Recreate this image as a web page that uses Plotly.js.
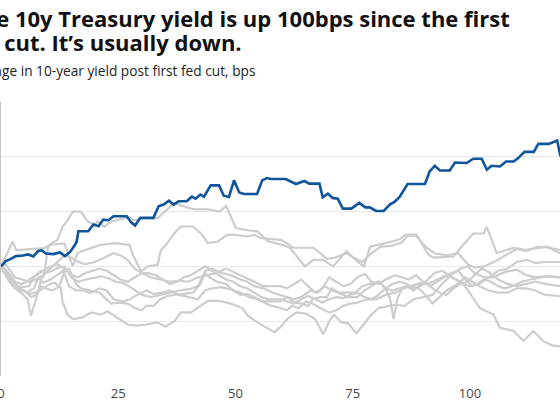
<!DOCTYPE html>
<html>
<head>
<meta charset="utf-8">
<script src="https://cdn.plot.ly/plotly-3.0.1.min.js"></script>
<style>
html,body{margin:0;padding:0;background:#fff;overflow:hidden;}
#chart{width:560px;height:402px;}
</style>
</head>
<body>
<div id="chart"></div>
<script>
// Titles
const titleLine1 = "The 10y Treasury yield is up 100bps since the first";
const titleLine2 = "fed cut. It\u2019s usually down.";
const subtitle = "Change in 10-year yield post first fed cut, bps";

// X tick labels (trading days after first cut)
const xTicks = [0, 25, 50, 75, 100];

// Current cycle (blue): days after cut, change in bps
const currentDays = [0,1,1.9,3.2,4.7,5.8,6.9,7.9,8.6,9.6,11.1,12.6,13.6,14.7,15.6,16.1,16.5,18.6,19.7,20.8,21.8,22.9,24,26.8,27.8,28.6,29.7,32.5,33.6,34.7,35.8,36.8,37.9,39.6,40.7,41.5,42.5,43.3,44.7,46.5,47.5,48.6,49.7,50.8,51.8,54.6,55.7,56.7,57.5,60.7,62.9,64.7,65.7,67.9,68.6,69.7,70.7,71.8,72.9,74.7,76.4,77.7,78.6,80,81.6,82.9,83.9,85,86.7,90.4,91.4,92.5,93.6,95.7,96.8,99.3,100.7,102.5,103.6,104.6,106.4,107.7,109.3,110.3,111.6,113.6,114.6,116.8,118.6,119.3];
const currentBps = [0,4.8,6.4,9.4,10,10.9,9.1,13.9,14.8,11.8,11.2,12.7,9.4,13,18.5,22,32.1,32.1,38.2,36.6,42.7,42.1,45.7,45.7,40,37.3,44.3,44.3,54.8,56.4,60,56.4,59.4,59.4,63.6,61.8,65.5,63.6,73.9,73.9,64.5,63.4,78.5,67.5,66.1,66.1,78.5,80.6,79.7,79.7,75.2,77.9,75.5,75.5,63,66.4,62.5,61.8,52.7,52.7,57.9,53.9,53.9,50.6,50.6,56.4,58.8,63.4,75.2,75.2,86.6,91.8,87.5,87.5,94.8,94.3,98.2,98.2,88.2,91.8,91.2,95.7,95.7,98.8,104.5,104.5,111.8,111.8,114.8,100.3];

// Past cycles (grey): [day, bps]
const pastCycle1 = [[0,0],[1.5,-12],[3,-20],[4.5,-25],[5.7,-30],[6.4,-45],[7.1,-35],[8,-22],[8.5,-12],[9.2,-8],[10,17],[10.7,21],[12,24],[13.1,36],[14.2,42],[15.3,50],[17,50],[18.5,41],[19.9,38],[20.6,41],[22,36],[23.5,41],[24.5,42],[27.4,45],[28.4,42],[30.6,44],[33.4,44],[35.5,52],[37,58],[38.7,55],[41.2,52],[44.1,52],[46.6,50],[48,55],[50.1,35],[52.6,33],[54.7,32],[56.9,23],[59.7,20],[61.6,17],[63,10],[64.8,0],[66.6,6],[68.7,6],[70.8,0],[73.7,14],[75.8,5],[77.4,0],[78.7,18],[80.8,20],[83.7,23],[85.2,25],[86.2,29],[88.6,29],[91.1,11],[92.2,8],[96.5,9],[98.2,18],[100.7,30],[102.9,30],[103.6,36],[105.7,12],[109.3,17],[112,15],[116.4,18],[119.2,12]];
const pastCycle2 = [[0,0],[2.5,22.7],[3.2,15],[4.3,15],[9.2,16.7],[10.3,19.7],[13.5,21],[14.6,9],[15.3,0],[16.3,12],[17.1,13.6],[19.2,16.7],[21.3,19.7],[24.2,21.2],[27.4,19.7],[28.1,10.6],[29.9,-4.5],[31.3,0],[33.4,1.5],[34.1,15],[35.2,19.7],[36.2,25.8],[37.3,31.8],[38.4,36.4],[40.9,36.4],[42.6,30.3],[44.1,21.2],[46.2,22.7],[48.3,28.8],[49.8,28.8],[52.6,27.3],[54,28.8],[55.4,25.8],[59.7,24.2],[61,21],[62.3,17],[66.6,17],[68.4,11],[69.5,7],[71.2,8],[73.7,12],[75.2,8],[77,4],[79,12],[81,18],[83.5,19],[85.5,22],[86.7,28],[88.5,28],[90.5,18],[92.5,12],[95,10],[97.5,12],[99.5,2],[101,-1],[103,0],[105.5,5],[107.5,10],[110,16],[112,14],[114.5,18],[117,17],[119.2,15]];
const pastCycle3 = [[0,0],[1,-8],[2,-15],[3,-20],[4.5,-22],[6,-25],[7.5,-24],[9,-20],[10.5,-16],[11.5,-15],[12.8,-20],[13.1,-32],[14.2,-44],[15.3,-48],[17.1,-47],[19.2,-42],[21.3,-44],[22.7,-41],[24.9,-47],[27,-53],[29,-54],[31,-53],[33.4,-51],[35,-55],[37,-50],[38.4,-42],[40.5,-42],[42.6,-36],[44.1,-31.5],[46.5,-31.5],[49,-34],[51.5,-38],[52.6,-45],[55,-52],[56.9,-57],[58.3,-60],[59.7,-55],[61,-48],[63,-42],[65,-43],[67,-48],[68.7,-62],[70,-50],[71,-44],[72.5,-51],[74,-52],[75.8,-61],[77.5,-52],[79,-44],[80.5,-38],[82,-37],[84,-35],[86,-36],[88,-30],[90,-28],[92,-26],[94,-16],[96,-8],[98,-2],[99.5,0],[101,-6],[103,-10],[105,-10],[107.5,-5],[110,-3],[112,-8],[114,-10],[116,-9],[119.2,-10]];
const pastCycle4 = [[0,0],[1,-4],[2,-10],[3.5,-18],[5,-22],[6.5,-28],[7.5,-26],[8.5,-18],[9.5,-20],[11,-22],[12.5,-18],[13.5,-5],[14.5,-2],[16,-16],[17,-20],[19,-22],[21,-24],[22,-28],[23.5,-34],[25,-33],[27,-34],[28.5,-38],[30,-40],[31,-36],[32.5,-36],[34,-30],[35.5,-27],[37,-26],[39,-25],[41,-24],[42.5,-16],[43.5,-6],[44.5,-10],[46,-14],[48,-16],[49.5,-22],[51,-26],[52.5,-25],[54,-28],[55.5,-32],[57,-32],[59.5,-32],[61,-28],[62.5,-33],[64,-34],[65.5,-36],[66.5,-30],[68,-28],[69.5,-28],[70.5,-20],[72,-24],[74,-28],[76,-28],[77.5,-22],[79,-18],[80.5,-14],[82,-20],[83.5,-22],[85,-20],[86.5,-18],[88,-22],[89.5,-16],[91,-16],[93,-12],[95,-8],[96.5,-11],[98,-14],[99.3,-20],[100.5,-28],[102.1,-38],[105,-44],[106.4,-56],[109.3,-59],[111.4,-68],[113.5,-59],[115.6,-68],[117.5,-72],[119.2,-73]];
const pastCycle5 = [[0,0],[1.2,-10],[2.5,-18],[4,-20],[5.5,-24],[7,-20],[8,-10],[9,-15],[10.5,-12],[12,-8],[13.3,-4],[14.5,-18],[16,-22],[17.5,-22],[19,-24],[21,-20],[22.5,-22],[24,-30],[26,-32],[27.5,-30],[29,-26],[31,-22],[32.5,-25],[34.5,-24],[36,-22],[38,-26],[40,-28],[42,-30],[43.5,-22],[45,-20],[47,-19],[49,-21],[51,-24],[53,-28],[55,-30],[57,-35],[59.5,-38],[61,-40],[62,-36],[63.5,-38],[65,-32],[66.5,-34],[68,-38],[70,-42],[71.5,-40],[73,-36],[74.5,-34],[76,-33],[78,-30],[80,-30],[82,-26],[84,-24],[86,-20],[87.5,-18],[89,-20],[90.5,-26],[92,-34],[93.5,-28],[95,-22],[97,-17],[99,-10],[100.5,-14],[102,-18],[104,-22],[106,-24],[108,-24],[110,-20],[112,-20],[114,-22],[116,-26],[119.2,-27]];
const pastCycle6 = [[0,0],[1,-6],[2,-12],[3,-17],[4.5,-19],[6,-18],[7,-10],[8.5,-4],[9.5,-6],[11,-4],[12.3,-1],[13.5,0],[15,-10],[16.5,-14],[18,-12],[20,-10],[21.5,-9],[23,-11],[24.5,-14],[26,-15],[28,-20],[30,-26],[32,-28],[34,-26],[36,-24],[38,-22],[40,-21],[42,-18],[43.5,-4],[45,-2],[47,-6],[49,-8],[51,-12],[52.5,-14],[54,-18],[56,-20],[58,-24],[59.5,-26],[61,-28],[62.5,-30],[64,-28],[66,-22],[67.5,-24],[69,-18],[70.5,-22],[72,-24],[73.5,-24],[75.5,-24],[77,-18],[78.5,-16],[80.5,-14],[82,-20],[83,-30],[83.7,-48],[84.5,-30],[85.5,-20],[87,-18],[89,-16],[90.5,-14],[92,-20],[93.5,-24],[95,-26],[96.5,-20],[98,-16],[99.5,-14],[101,-8],[102.5,-2],[104,-5],[106,-12],[108,-16],[110,-18],[112,-16],[114,-14],[116,-16],[119.2,-18]];
const pastCycle7 = [[0,0],[1,2],[2,-4],[3,-10],[4.5,-12],[6,-14],[7.5,-12],[9,-8],[10.5,-2],[12,4],[13.5,10],[15,8],[16.5,4],[18,2],[20,4],[22,8],[24,12],[25.5,10],[27,6],[28.5,-2],[30,-6],[32,-10],[34,-12],[36,-14],[38,-13],[40,-14],[42,-10],[44,-8],[46,-6],[48,-2],[50,-6],[52,-10],[54,-14],[56,-18],[58,-18],[59.5,-18],[61,-20],[62.5,-16],[64,-12],[65.5,-18],[67,-24],[68.5,-20],[70,-10],[71.5,-14],[73,-18],[74.5,-16],[76,-10],[77.6,-7],[79,-14],[80.5,-16],[82,-12],[84,-8],[85.5,-10],[87,-12],[88.5,-8],[90,-14],[91.5,-18],[93,-14],[94.5,-10],[96,-6],[97.5,-4],[99,-12],[100.5,-18],[102,-16],[104,-10],[106,-4],[108,-2],[110,4],[112,6],[114,3],[116,4],[119.2,4]];
const pastCycle8 = [[0,0],[1,-3],[2,-8],[3,-14],[4.5,-16],[6,-12],[7.5,-8],[9,-4],[10.5,0],[12,2],[13.5,-2],[15,-8],[16.5,-10],[18,-6],[19.5,-4],[21,-2],[22.5,-4],[24,-8],[25.5,-12],[27,-14],[28.5,-10],[30,-6],[31.5,-6],[33,-8],[34.5,-12],[36,-16],[37.5,-14],[39,-10],[40.5,-8],[42,-4],[43.5,0],[45,-4],[46.5,-8],[48,-12],[49.5,-14],[51,-18],[52.5,-20],[54,-24],[55.5,-28],[57,-30],[59.5,-30],[61,-32],[62.5,-34],[64,-30],[65.5,-27],[67,-30],[68.5,-33],[70,-30],[71.5,-28],[73,-29],[74.5,-26],[76,-24],[77.5,-28],[79,-30],[80.5,-26],[82,-20],[83.5,-16],[85,-14],[86.5,-16],[88,-20],[89.5,-18],[91,-12],[92.5,-6],[94,-4],[95.5,-8],[97,-12],[98.5,-16],[100,-18],[101.5,-16],[103,-12],[104.5,-14],[106,-18],[107.5,-20],[109,-18],[111,-14],[113,-12],[115,-10],[117,-9],[119.2,-10]];

const pastCycles = [pastCycle1, pastCycle2, pastCycle3, pastCycle4, pastCycle5, pastCycle6, pastCycle7, pastCycle8];

const traces = pastCycles.map(c => ({
  x: c.map(p => p[0]),
  y: c.map(p => p[1]),
  type: 'scatter', mode: 'lines',
  line: {color: '#cdcdcd', width: 2.2},
  hoverinfo: 'skip', showlegend: false
}));
traces.push({
  x: currentDays, y: currentBps,
  type: 'scatter', mode: 'lines',
  line: {color: '#0f559c', width: 2.6},
  hoverinfo: 'skip', showlegend: false
});

const W = 559, H = 274;       // plot area size (px)
const px2x = p => (p - 1) / W;
const py2y = p => (376 - p) / H;
const TFONT = 'Open Sans, sans-serif';

const layout = {
  width: 560, height: 402,
  margin: {l: 1, r: 0, t: 102, b: 26, pad: 0},
  paper_bgcolor: '#fff', plot_bgcolor: '#fff',
  showlegend: false,
  xaxis: {
    range: [0, 119.2], tickvals: xTicks, ticktext: xTicks.map(String),
    showgrid: false, zeroline: false, showline: false, ticks: '',
    ticklabeloverflow: 'allow', ticklabelstandoff: 8,
    tickfont: {family: TFONT, size: 13, color: '#444'},
    fixedrange: true
  },
  yaxis: {
    range: [-100, 150], dtick: 50, tick0: 0,
    showgrid: true, gridcolor: '#e9e9e9', gridwidth: 1,
    zeroline: false, showticklabels: false, ticks: '',
    showline: true, linecolor: '#c4c4c4', linewidth: 1,
    fixedrange: true
  },
  annotations: [
    {text: titleLine1, xref: 'paper', yref: 'paper', x: px2x(-33.5), y: py2y(0.5), xanchor: 'left', yanchor: 'top', showarrow: false,
     font: {family: TFONT, size: 22, color: '#111', weight: 700}},
    {text: titleLine2, xref: 'paper', yref: 'paper', x: px2x(-39), y: py2y(25), xanchor: 'left', yanchor: 'top', showarrow: false,
     font: {family: TFONT, size: 22, color: '#111', weight: 700}},
    {text: subtitle, xref: 'paper', yref: 'paper', x: px2x(-33.5), y: py2y(59), xanchor: 'left', yanchor: 'top', showarrow: false,
     font: {family: TFONT, size: 13.7, color: '#222'}}
  ]
};

Plotly.newPlot('chart', traces, layout, {staticPlot: true, displayModeBar: false});
</script>
</body>
</html>
